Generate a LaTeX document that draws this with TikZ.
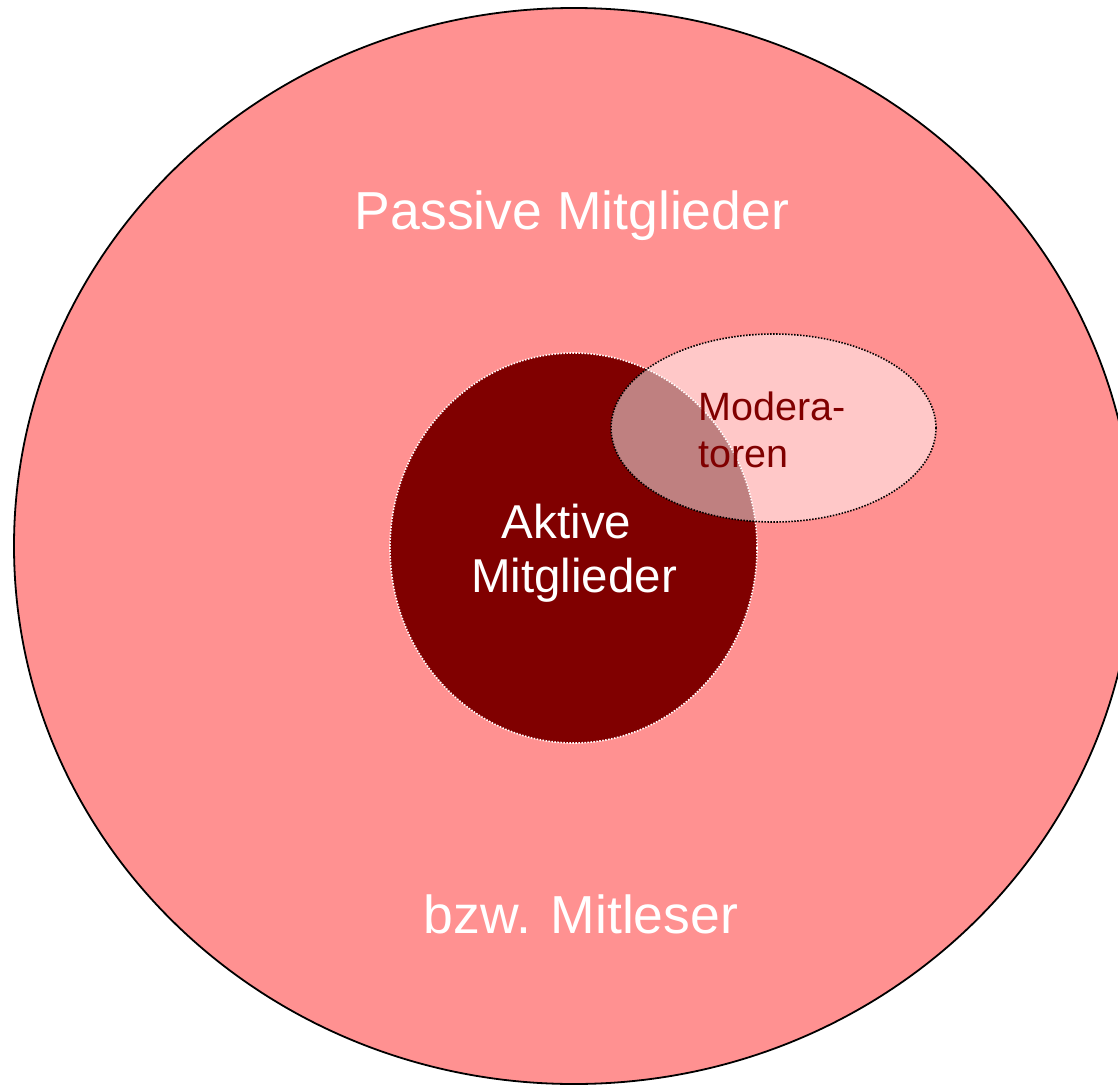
\documentclass[tikz,border=0pt]{standalone}
\usepackage{fontspec}
\setmainfont{Liberation Sans}
\usetikzlibrary{shapes.geometric}
\definecolor{passivefill}{RGB}{255,145,145}
\definecolor{aktivfill}{RGB}{128,0,0}
\definecolor{modtext}{RGB}{128,0,0}
\tikzset{
  region/.style={ellipse, inner sep=0pt, outer sep=0pt},
  dotborder/.style={line width=1.6pt, dash pattern=on 1.5pt off 1.5pt},
  bigtext/.style={text=white, font=\fontsize{53.5}{60}\selectfont, inner sep=0pt, anchor=base},
}
\begin{document}
\begin{tikzpicture}[x=1pt, y=-1pt]
\useasboundingbox (0,0) rectangle (1118,1086);
\clip (0,0) rectangle (1118,1086);
\node[region, draw=black, line width=1.8pt, fill=passivefill,
      minimum width=1120pt, minimum height=1076pt] (passive) at (574,546) {};
\node[region, draw=white, dotborder, fill=aktivfill,
      minimum width=367pt, minimum height=390pt] (aktiv) at (573.5,548) {};
\node[region, draw=black, dotborder, fill=white, fill opacity=0.5, draw opacity=1,
      minimum width=325pt, minimum height=188pt] (moder) at (773.5,428) {};
\node[bigtext] (passivetxt) at (572,229) {Passive Mitglieder};
\node[bigtext] (lesertxt) at (581,933) {bzw. Mitleser};
\node[text=white, font=\fontsize{47.5}{54}\selectfont, inner sep=0pt, align=center, anchor=north] (aktivtxt) at (574,504) {Aktive\hspace*{15pt}\\Mitglieder};
\node[text=modtext, font=\fontsize{39.5}{47}\selectfont, inner sep=0pt, align=left, anchor=north west] (modertxt) at (698,392) {Modera-\\toren};
\end{tikzpicture}
\end{document}
